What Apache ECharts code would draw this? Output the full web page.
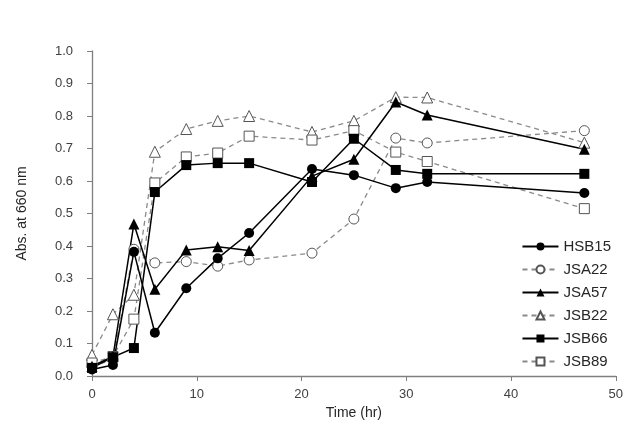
<!DOCTYPE html>
<html lang="en">
<head>
    <meta charset="UTF-8">
    <script src="https://cdn.jsdelivr.net/npm/echarts@6/dist/echarts.min.js"></script>
</head>
<body style="margin:0;background:#fff;">

<div id="main" style="width: 626px;height:441px;"></div>

<script type="text/javascript">
    // sampling times (hr)
    var times = [0, 2, 4, 6, 9, 12, 15, 21, 25, 29, 32, 47];

    // absorbance at 660 nm for each strain
    var hsb15 = [0.02, 0.034, 0.382, 0.133, 0.27, 0.362, 0.44, 0.637, 0.618, 0.578, 0.597, 0.563];
    var jsa22 = [0.03, 0.05, 0.39, 0.348, 0.352, 0.338, 0.357, 0.378, 0.483, 0.732, 0.717, 0.755];
    var jsa57 = [0.03, 0.06, 0.468, 0.267, 0.388, 0.398, 0.386, 0.615, 0.667, 0.843, 0.803, 0.698];
    var jsb22 = [0.065, 0.19, 0.25, 0.69, 0.76, 0.785, 0.80, 0.751, 0.785, 0.858, 0.857, 0.718];
    var jsb66 = [0.025, 0.058, 0.086, 0.566, 0.649, 0.655, 0.655, 0.597, 0.73, 0.634, 0.622, 0.622];
    var jsb89 = [0.04, 0.06, 0.175, 0.594, 0.674, 0.686, 0.738, 0.726, 0.755, 0.689, 0.66, 0.515];

    var yTicks = [0, 0.1, 0.2, 0.3, 0.4, 0.5, 0.6, 0.7, 0.8, 0.9, 1.0];

    function pairs(ys) {
        return times.map(function (t, i) { return [t, ys[i]]; });
    }

    function solid(name, ys, symbol, size) {
        return {
            name: name, type: 'line', data: pairs(ys),
            symbol: symbol, symbolSize: size,
            lineStyle: {color: '#000', width: 1.5},
            itemStyle: {color: '#000', borderColor: '#000', borderWidth: 0}
        };
    }

    function dashed(name, ys, symbol, size) {
        return {
            name: name, type: 'line', data: pairs(ys),
            symbol: symbol, symbolSize: size,
            lineStyle: {color: '#8a8a8a', width: 1.3, type: [5, 4]},
            itemStyle: {color: '#fff', borderColor: '#555', borderWidth: 1}
        };
    }

    var myChart = echarts.init(document.getElementById('main'));

    var axisColor = '#7f7f7f';
    var labelColor = '#404040';

    var option = {
        animation: false,
        textStyle: {fontFamily: 'Liberation Sans, Arial, sans-serif'},
        grid: {left: 92, right: 9, top: 51, bottom: 65},
        legend: {
            orient: 'vertical',
            right: 10,
            top: 234,
            itemGap: 8,
            itemWidth: 36,
            itemHeight: 10,
            textStyle: {fontSize: 15, color: '#262626'},
            data: ['HSB15', 'JSA22', 'JSA57', 'JSB22', 'JSB66', 'JSB89']
        },
        xAxis: {
            type: 'value',
            min: 0, max: 50, interval: 10,
            name: 'Time (hr)',
            nameLocation: 'middle',
            nameGap: 29,
            nameTextStyle: {fontSize: 14, color: '#262626'},
            axisLine: {lineStyle: {color: axisColor, width: 1.3}},
            axisTick: {show: true, length: 5, lineStyle: {color: axisColor}},
            axisLabel: {fontSize: 13, color: labelColor, margin: 12},
            splitLine: {show: false}
        },
        yAxis: {
            type: 'value',
            min: yTicks[0], max: yTicks[yTicks.length - 1], interval: 0.1,
            name: 'Abs. at 660 nm',
            nameLocation: 'middle',
            nameGap: 63,
            nameTextStyle: {fontSize: 14, color: '#262626'},
            axisLine: {show: true, lineStyle: {color: axisColor, width: 1.3}},
            axisTick: {show: true, length: 5, lineStyle: {color: axisColor}},
            axisLabel: {
                fontSize: 13, color: labelColor, margin: 19,
                formatter: function (v) { return v.toFixed(1); }
            },
            splitLine: {show: false}
        },
        series: [
            dashed('JSA22', jsa22, 'circle', 10),
            dashed('JSB22', jsb22, 'triangle', 11),
            dashed('JSB89', jsb89, 'rect', 10),
            solid('HSB15', hsb15, 'circle', 10),
            solid('JSA57', jsa57, 'triangle', 11),
            solid('JSB66', jsb66, 'rect', 10)
        ]
    };

    myChart.setOption(option);
</script>
</body>
</html>
